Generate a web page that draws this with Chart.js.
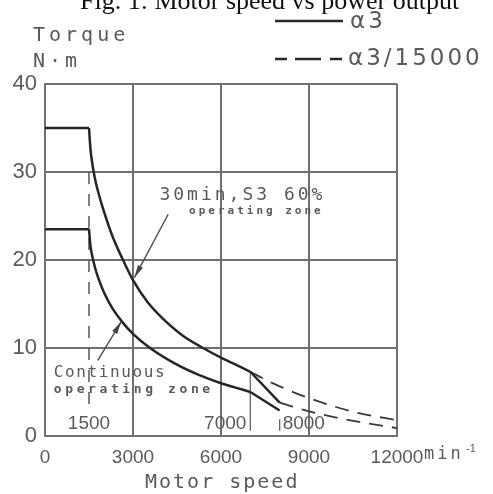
<!DOCTYPE html>
<html>
<head>
<meta charset="utf-8">
<script src="https://cdn.jsdelivr.net/npm/chart.js@4/dist/chart.umd.min.js"></script>
<style>
  body { margin: 0; background: #fff; }
  #wrap { width: 493px; height: 494px; }
</style>
</head>
<body>
<div id="wrap"><canvas id="myChart" width="493" height="494"></canvas></div>
<script>
// values (speed in min-1, torque in N·m)
const upperSpeed = [0, 1500, 1550, 1620, 1700, 1800, 2000, 2300, 2660, 3000, 3500, 4000, 4700, 5390, 6000, 6500, 7000, 8000];
const upperTorque = [35, 35, 32.6, 30.8, 29.3, 27.9, 25.6, 22.7, 20, 17.7, 15.2, 13.4, 11.4, 10, 8.9, 8.1, 7.3, 3.8];
const lowerSpeed = [0, 1500, 1550, 1620, 1700, 1800, 2000, 2300, 2625, 3000, 3580, 4500, 5200, 6000, 6500, 7000, 8000];
const lowerTorque = [23.5, 23.5, 21.6, 20.3, 19.2, 18.1, 16.4, 14.5, 13.0, 11.6, 10, 8.1, 7.0, 6.0, 5.5, 5.0, 2.9];
const upperDashSpeed = [7000, 7700, 9000, 10700, 12000];
const upperDashTorque = [7.3, 6.1, 4.3, 2.6, 1.8];
const lowerDashSpeed = [8000, 9000, 10700, 12000];
const lowerDashTorque = [3.8, 2.8, 1.6, 0.9];
const baseSpeedLine = [1500, 1500];
const baseSpeedTorque = [30, 3];
const xTicks = [0, 3000, 6000, 9000, 12000];
const yTicks = [0, 10, 20, 30, 40];

const toPts = (xs, ys) => xs.map((x, i) => ({ x: x, y: ys[i] }));
const upperPts = toPts(upperSpeed, upperTorque);
const lowerPts = toPts(lowerSpeed, lowerTorque);

const ink = '#262626';
const gridCol = '#707070';
const textCol = '#5a5a5a';
const narrow = '"Liberation Sans Narrow", "Liberation Sans"';

// a piece of a curve: flat part, curved part, steep tail
const piece = (pts, smooth) => ({
    data: pts,
    borderColor: ink,
    borderWidth: 2.5,
    pointRadius: 0,
    cubicInterpolationMode: smooth ? 'monotone' : 'default',
    tension: 0,
});

const annotate = {
    id: 'annotate',
    afterDraw: (chart) => {
        const { ctx } = chart;
        const xs = chart.scales.x;
        const ys = chart.scales.y;
        const px = v => xs.getPixelForValue(v);
        const py = v => ys.getPixelForValue(v);
        ctx.save();

        // title (cut off at the top edge)
        ctx.fillStyle = '#111';
        ctx.font = '26px "Liberation Serif"';
        ctx.textAlign = 'left';
        ctx.textBaseline = 'alphabetic';
        ctx.fillText('Fig. 1: Motor speed vs power output', 80, 9);

        // legend
        ctx.strokeStyle = ink;
        ctx.lineWidth = 2.5;
        ctx.beginPath();
        ctx.moveTo(275, 21); ctx.lineTo(343, 21);
        ctx.stroke();
        ctx.setLineDash([12, 8, 26, 9, 12]);
        ctx.beginPath();
        ctx.moveTo(275, 59); ctx.lineTo(343, 59);
        ctx.stroke();
        ctx.setLineDash([]);
        ctx.fillStyle = textCol;
        ctx.font = '23px "DejaVu Sans"';
        ctx.textBaseline = 'middle';
        ctx.letterSpacing = '3px';
        ctx.fillText('α3', 350, 22);
        ctx.fillText('α3/15000', 348, 59);

        // axis titles
        ctx.font = '20px "DejaVu Sans Mono"';
        ctx.letterSpacing = '4px';
        ctx.fillText('Torque', 33, 36);
        ctx.fillText('N·m', 33, 62);
        ctx.letterSpacing = '2px';
        ctx.fillText('Motor speed', 145, 483);
        ctx.letterSpacing = '3px';
        ctx.font = '17px "DejaVu Sans Mono"';
        ctx.fillText('min', 424, 455);
        ctx.letterSpacing = '0px';
        ctx.font = '11px "Liberation Sans"';
        ctx.fillText('-1', 466, 449);

        // speed marks inside the plot
        ctx.font = '19px ' + narrow;
        ctx.textAlign = 'center';
        ctx.fillText('1500', px(1500), 424);
        ctx.textAlign = 'right';
        ctx.fillText('7000', px(7000) - 4, 424);
        ctx.textAlign = 'left';
        ctx.fillText('8000', px(8000) + 3, 424);

        // zone labels
        ctx.textAlign = 'left';
        ctx.font = '18px "DejaVu Sans Mono"';
        ctx.letterSpacing = '3px';
        ctx.fillText('30min,S3 60%', px(3900), py(27.3));
        ctx.font = 'bold 11px "DejaVu Sans Mono"';
        ctx.letterSpacing = '3px';
        ctx.fillText('operating zone', px(4910), py(25.5));
        ctx.font = '16px "DejaVu Sans Mono"';
        ctx.letterSpacing = '1.6px';
        ctx.fillText('Continuous', px(300), py(7.2));
        ctx.font = 'bold 13px "DejaVu Sans Mono"';
        ctx.letterSpacing = '3.6px';
        ctx.fillText('operating zone', px(300), py(5.3));
        ctx.letterSpacing = '0px';

        // arrows
        const arrow = (x0, y0, x1, y1) => {
            ctx.strokeStyle = '#444';
            ctx.fillStyle = '#444';
            ctx.lineWidth = 1.3;
            ctx.beginPath();
            ctx.moveTo(x0, y0); ctx.lineTo(x1, y1);
            ctx.stroke();
            const a = Math.atan2(y1 - y0, x1 - x0);
            ctx.beginPath();
            ctx.moveTo(x1, y1);
            ctx.lineTo(x1 - 13 * Math.cos(a - 0.22), y1 - 13 * Math.sin(a - 0.22));
            ctx.lineTo(x1 - 13 * Math.cos(a + 0.22), y1 - 13 * Math.sin(a + 0.22));
            ctx.closePath();
            ctx.fill();
        };
        arrow(px(4200), py(25.2), px(3050), py(18));
        arrow(px(1800), py(8.6), px(2600), py(13));

        ctx.restore();
    }
};

const ctx1 = document.getElementById('myChart').getContext('2d');
const chart1 = new Chart(ctx1, {
    type: 'line',
    data: {
        datasets: [
            piece(upperPts.slice(0, 2), false),
            piece(upperPts.slice(1, -1), true),
            piece(upperPts.slice(-2), false),
            piece(lowerPts.slice(0, 2), false),
            piece(lowerPts.slice(1, -1), true),
            piece(lowerPts.slice(-2), false),
        {
            label: 'α3/15000',
            data: toPts(upperDashSpeed, upperDashTorque),
            borderColor: '#3a3a3a',
            borderWidth: 1.8,
            borderDash: [14, 9],
            pointRadius: 0,
            cubicInterpolationMode: 'monotone',
        }, {
            label: 'α3/15000',
            data: toPts(lowerDashSpeed, lowerDashTorque),
            borderColor: '#3a3a3a',
            borderWidth: 1.8,
            borderDash: [14, 9],
            pointRadius: 0,
            cubicInterpolationMode: 'monotone',
        }, {
            label: 'base speed',
            data: toPts(baseSpeedLine, baseSpeedTorque),
            borderColor: '#555',
            borderWidth: 1.5,
            borderDash: [12, 10],
            pointRadius: 0,
        }, {
            label: '7000',
            data: toPts([7000, 7000], [7.2, 0.6]),
            borderColor: '#666',
            borderWidth: 1.3,
            pointRadius: 0,
        }, {
            label: '8000',
            data: toPts([8000, 8000], [1.9, 0.6]),
            borderColor: '#666',
            borderWidth: 1.3,
            pointRadius: 0,
        }]
    },
    options: {
        responsive: false,
        animation: false,
        layout: {
            padding: { top: 84, right: 96, left: 0, bottom: 0 },
        },
        plugins: {
            legend: { display: false },
            tooltip: { enabled: false },
        },
        scales: {
            x: {
                type: 'linear',
                min: 0,
                max: 12000,
                afterFit: (scale) => { scale.height = 58; },
                afterBuildTicks: (scale) => { scale.ticks = xTicks.map(v => ({ value: v })); },
                grid: { color: gridCol, lineWidth: 2, drawTicks: false },
                border: { color: gridCol, width: 2 },
                ticks: {
                    padding: 10,
                    color: textCol,
                    font: { family: narrow, size: 19 },
                    maxRotation: 0,
                    callback: (v) => String(v),
                },
            },
            y: {
                min: 0,
                max: 40,
                afterFit: (scale) => { scale.width = 45; },
                afterBuildTicks: (scale) => { scale.ticks = yTicks.map(v => ({ value: v })); },
                grid: { color: gridCol, lineWidth: 2, drawTicks: false },
                border: { color: gridCol, width: 2 },
                ticks: {
                    padding: 8,
                    color: textCol,
                    font: { family: 'Liberation Sans', size: 22 },
                },
            },
        },
    },
    plugins: [annotate],
});
</script>
</body>
</html>
